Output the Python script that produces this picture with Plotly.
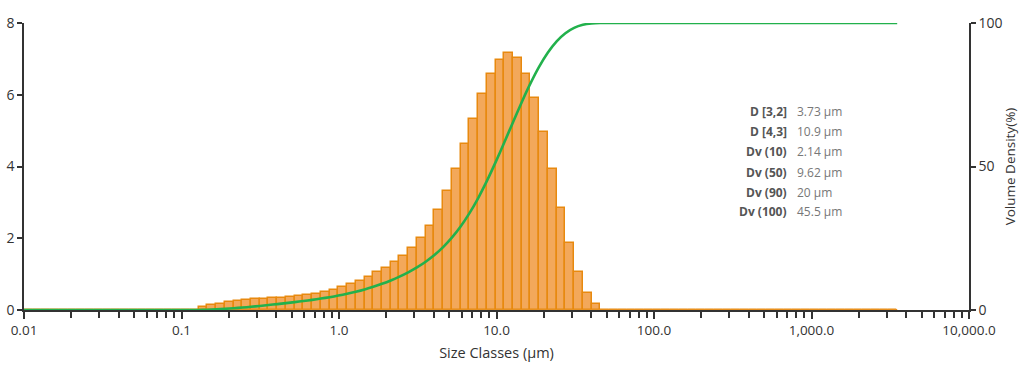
import math
import plotly.graph_objects as go

# ---- data ----
# 100 size classes, log-spaced from 0.01 µm to 3500 µm (Mastersizer classes)
size_min = 0.01
size_max = 3500.0
n_classes = 100

# volume density (%) per class (classes 0..99)
density = [0.0] * 20 + [
    0.09, 0.14, 0.18, 0.21, 0.24, 0.27, 0.30, 0.31, 0.33, 0.34,
    0.36, 0.38, 0.41, 0.45, 0.49, 0.56, 0.63, 0.72, 0.82, 0.93,
    1.05, 1.18, 1.34, 1.51, 1.73, 2.00, 2.34, 2.79, 3.31, 3.92,
    4.62, 5.32, 6.02, 6.58, 6.98, 7.15, 7.03, 6.59, 5.90, 4.97,
    3.93, 2.85, 1.88, 1.07, 0.48, 0.16,
] + [0.0] * 34

# cumulative volume (%) at class edges (101 edges)
cumulative = [0.0] * 21 + [
    0.09, 0.23, 0.41, 0.61, 0.85, 1.12, 1.42, 1.73, 2.05, 2.39,
    2.75, 3.12, 3.53, 3.98, 4.46, 5.02, 5.64, 6.36, 7.17, 8.09,
    9.13, 10.30, 11.63, 13.13, 14.84, 16.82, 19.15, 21.91, 25.19, 29.08,
    33.66, 38.93, 44.90, 51.43, 58.35, 65.44, 72.41, 78.94, 84.79, 89.72,
    93.61, 96.44, 98.30, 99.36, 99.84,
] + [100.0] * 35

stat_labels = ["D [3,2]", "D [4,3]", "Dv (10)", "Dv (50)", "Dv (90)", "Dv (100)"]
stat_values = ["3.73 μm", "10.9 μm", "2.14 μm", "9.62 μm", "20 μm", "45.5 μm"]

major_ticks = [0.01, 0.1, 1.0, 10.0, 100.0, 1000.0, 10000.0]
major_labels = ["0.01", "0.1", "1.0", "10.0", "100.0", "1,000.0", "10,000.0"]

# ---- geometry of the size classes (log10 space) ----
lo = math.log10(size_min)
step = (math.log10(size_max) - lo) / n_classes
centers = [lo + (k + 0.5) * step for k in range(n_classes)]
edges = [lo + k * step for k in range(n_classes + 1)]

minor_vals = []
for d in range(-2, 4):
    for m in range(2, 10):
        minor_vals.append(math.log10(m * 10 ** d))

FONT = "Open Sans"
AX = "#333333"

fig = go.Figure()

# zero baseline of the density series
fig.add_trace(go.Scatter(
    x=[edges[0], edges[-1]], y=[0, 0], mode="lines",
    line=dict(color="#E8901E", width=2), hoverinfo="skip", showlegend=False,
))

fig.add_trace(go.Bar(
    x=centers, y=density, width=[step] * n_classes,
    marker=dict(color="#F3A85A", line=dict(color="#E8890F", width=1.5)),
    showlegend=False,
))

fig.add_trace(go.Scatter(
    x=edges, y=cumulative, yaxis="y2", mode="lines",
    line=dict(color="#22B14C", width=2.6, shape="spline", smoothing=0.6),
    showlegend=False,
))

annotations = []
row_y = [111, 131, 151, 172, 192, 212]
for lab, val, py in zip(stat_labels, stat_values, row_y):
    yp = (310 - py) / 287
    annotations.append(dict(
        x=(789 - 24) / 945, y=yp, xref="paper", yref="paper",
        text=lab, showarrow=False, xanchor="right", yanchor="middle",
        font=dict(family=FONT, size=12, color="#555555", weight="bold"),
    ))
    annotations.append(dict(
        x=(795 - 24) / 945, y=yp, xref="paper", yref="paper",
        text=val, showarrow=False, xanchor="left", yanchor="middle",
        font=dict(family=FONT, size=12, color="#777777"),
    ))

fig.update_layout(
    width=1026, height=374,
    margin=dict(l=24, r=57, t=23, b=64, autoexpand=False),
    paper_bgcolor="white", plot_bgcolor="white",
    bargap=0, showlegend=False,
    font=dict(family=FONT, color=AX, size=12),
    xaxis=dict(
        range=[-2, 4], tickmode="array", automargin=False,
        tickvals=[math.log10(v) for v in major_ticks], ticktext=major_labels,
        showline=True, linecolor=AX, linewidth=1.5, mirror=False,
        ticks="outside", ticklen=7, tickwidth=1.5, tickcolor=AX,
        showgrid=False, zeroline=False,
        tickfont=dict(family=FONT, size=13.5, color=AX),
        minor=dict(tickmode="array", tickvals=minor_vals, ticks="outside",
                   ticklen=6, tickwidth=1.5, tickcolor=AX, showgrid=False),
        title=dict(text="Size Classes (μm)", font=dict(family=FONT, size=14.5, color=AX),
                   standoff=10),
    ),
    yaxis=dict(
        range=[0, 8], tickvals=[0, 2, 4, 6, 8], automargin=False,
        showline=True, linecolor=AX, linewidth=1.5,
        ticks="outside", ticklen=5, tickwidth=1.5, tickcolor=AX,
        showgrid=False, zeroline=False,
        tickfont=dict(family=FONT, size=14, color=AX),
    ),
    yaxis2=dict(
        range=[0, 100], tickvals=[0, 50, 100], overlaying="y", side="right",
        automargin=False,
        showline=True, linecolor=AX, linewidth=1.5,
        ticks="outside", ticklen=5, tickwidth=1.5, tickcolor=AX,
        showgrid=False, zeroline=False,
        tickfont=dict(family=FONT, size=14, color=AX),
        title=dict(text="Volume Density(%)", font=dict(family=FONT, size=13.5, color=AX),
                   standoff=4),
    ),
    annotations=annotations,
)

fig.write_html("out.html", config={"displayModeBar": False},
               post_script="document.body.style.margin='0px';")
